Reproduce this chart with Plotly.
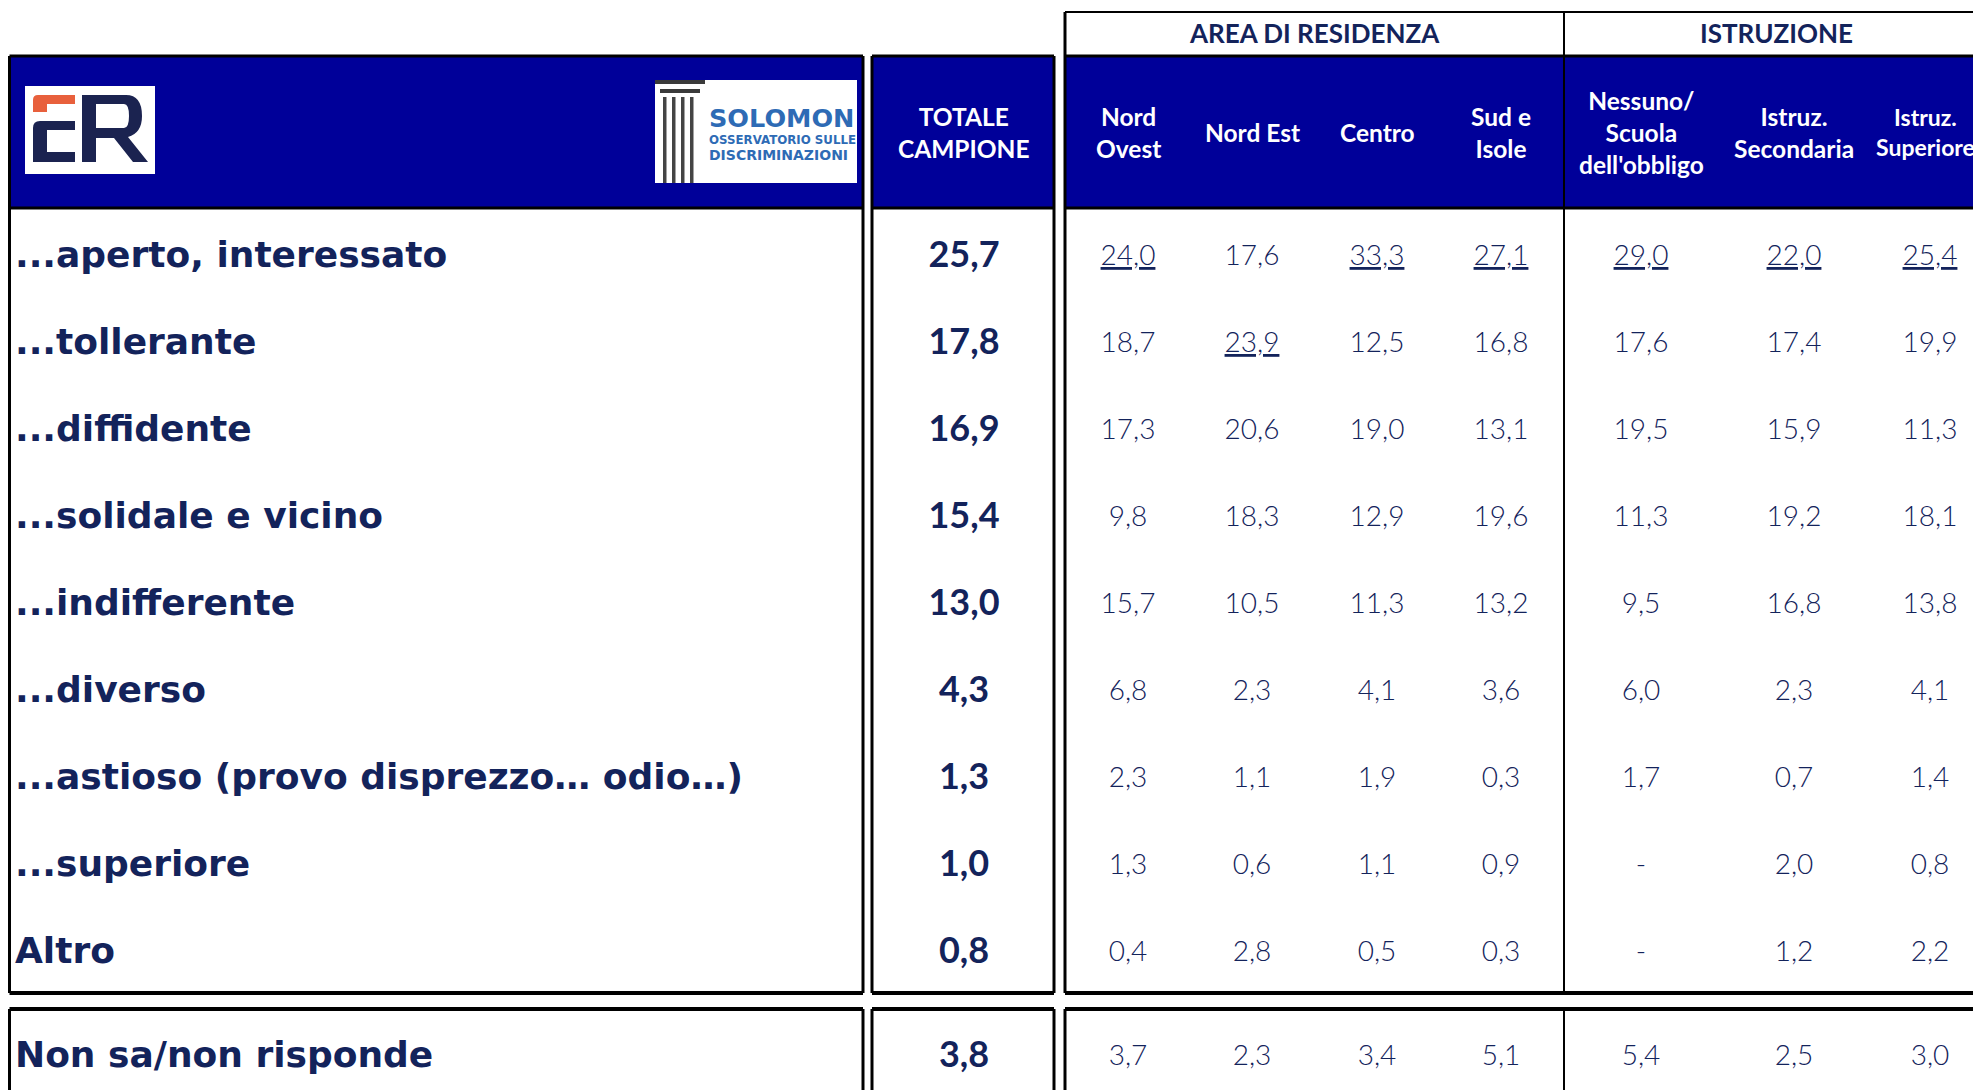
import plotly.graph_objects as go

# ── Dati ────────────────────────────────────────────────────────────────
voci = [
    "...aperto, interessato",
    "...tollerante",
    "...diffidente",
    "...solidale e vicino",
    "...indifferente",
    "...diverso",
    "...astioso (provo disprezzo… odio…)",
    "...superiore",
    "Altro",
    "Non sa/non risponde",
]
totale = [25.7, 17.8, 16.9, 15.4, 13.0, 4.3, 1.3, 1.0, 0.8, 3.8]
nord_ovest = [24.0, 18.7, 17.3, 9.8, 15.7, 6.8, 2.3, 1.3, 0.4, 3.7]
nord_est = [17.6, 23.9, 20.6, 18.3, 10.5, 2.3, 1.1, 0.6, 2.8, 2.3]
centro = [33.3, 12.5, 19.0, 12.9, 11.3, 4.1, 1.9, 1.1, 0.5, 3.4]
sud_isole = [27.1, 16.8, 13.1, 19.6, 13.2, 3.6, 0.3, 0.9, 0.3, 5.1]
nessuno = [29.0, 17.6, 19.5, 11.3, 9.5, 6.0, 1.7, None, None, 5.4]
secondaria = [22.0, 17.4, 15.9, 19.2, 16.8, 2.3, 0.7, 2.0, 1.2, 2.5]
superiore = [25.4, 19.9, 11.3, 18.1, 13.8, 4.1, 1.4, 0.8, 2.2, 3.0]

intestazioni = ["Nord<br>Ovest", "Nord Est", "Centro", "Sud e<br>Isole",
                "Nessuno/<br>Scuola<br>dell'obbligo", "Istruz.<br>Secondaria",
                "Istruz.<br>Superiore"]
colonne = [nord_ovest, nord_est, centro, sud_isole, nessuno, secondaria, superiore]
# indici di riga sottolineati per ogni colonna
sottolineati = [[0], [1], [0], [0], [0], [0], [0]]

# ── Layout (pixel) ─────────────────────────────────────────────────────
W, H = 1981, 1090
OFF = 8  # margine del body della pagina
BLU = "#000099"
NAVY = "#13235b"
col_x = [1128, 1252, 1377, 1501, 1641, 1794, 1930]
X_TOT = 964
row_y = [258 + 87 * i for i in range(9)] + [1058]


def fmt(v):
    return "-" if v is None else f"{v:.1f}".replace(".", ",")


fig = go.Figure()

shapes = []


def rect(x0, y0, x1, y1, fill=None, lw=0, lc="black"):
    shapes.append(dict(type="rect", x0=x0, y0=y0, x1=x1, y1=y1,
                       fillcolor=fill if fill else "rgba(0,0,0,0)",
                       line=dict(width=lw, color=lc), layer="below"))


def line(x0, y0, x1, y1, lw=3):
    shapes.append(dict(type="line", x0=x0, y0=y0, x1=x1, y1=y1,
                       line=dict(width=lw, color="black"), layer="above"))


# riquadri: etichette, totale, incroci
boxes = [(9.5, 863), (872, 1054), (1065, 1995)]
for x0, x1 in boxes:
    rect(x0, 56, x1, 208, fill=BLU)
    line(x0, 56, x1, 56)
    line(x0, 208, x1, 208)
    line(x0, 993, x1, 993, lw=4)
    line(x0, 1009, x1, 1009, lw=4)
    line(x0, 56, x0, 993)
    line(x1, 56, x1, 993)
    line(x0, 1009, x0, 1100)
    line(x1, 1009, x1, 1100)
# testata gruppi
line(1065, 12, 1995, 12, lw=2)
line(1065, 12, 1065, 56)
line(1564, 12, 1564, 993, lw=2)
line(1564, 1009, 1564, 1100, lw=2)

# logo ER
rect(25, 86, 155, 174, fill="white")
shapes.append(dict(type="path", fillcolor="#e8603c", line=dict(width=0),
                   path="M33,112 L33,100 Q33,95 38,95 L75,95 L75,104 L47,104 L47,112 Z"))
shapes.append(dict(type="path", fillcolor="#1b2350", line=dict(width=0),
                   path="M40,121 L75,121 L75,130 L47,130 L47,152 L75,152 L75,162 L33,162 L33,128 Q33,121 40,121 Z"))
shapes.append(dict(type="path", fillcolor="#1b2350", line=dict(width=0),
                   path="M82,95 L126,95 Q142,95 142,116 Q142,133 128,137 L148,162 L133,162 "
                        "L114,138 L96,138 L96,162 L82,162 Z "
                        "M96,104 L96,128 L124,128 Q129,128 129,116 Q129,104 124,104 Z"))

# logo Solomon
rect(655, 80, 857, 183, fill="white")
rect(655, 80, 705, 84, fill="#3a3a3a")
rect(660, 89, 700, 93, fill="#3a3a3a")
for cx in [663, 672, 681, 690]:
    rect(cx, 97, cx + 3.5, 183, fill="#444444")

fig.update_layout(shapes=shapes)

ann = []
ann.append(dict(x=707, y=118, text="<b>SOLOMON</b>", xanchor="left",
                font=dict(family="DejaVu Sans", size=25.5, color="#2e6bb5")))
ann.append(dict(x=707, y=140, text="<b>OSSERVATORIO SULLE</b>", xanchor="left",
                font=dict(family="DejaVu Sans", size=11.8, color="#2e6bb5")))
ann.append(dict(x=707, y=155, text="<b>DISCRIMINAZIONI</b>", xanchor="left",
                font=dict(family="DejaVu Sans", size=14, color="#2e6bb5")))

# testate
ann.append(dict(x=1314, y=33, text="<b>AREA DI RESIDENZA</b>",
                font=dict(family="Lato", size=26, color=NAVY)))
ann.append(dict(x=1776, y=33, text="<b>ISTRUZIONE</b>",
                font=dict(family="Lato", size=26, color=NAVY)))
ann.append(dict(x=X_TOT, y=132, text="<b>TOTALE<br>CAMPIONE</b>",
                font=dict(family="Lato", size=24.5, color="white")))
for cx, t in zip(col_x, intestazioni):
    size = 24.5
    if cx == col_x[-1]:
        cx, size = 1925, 23  # resta dentro il bordo destro
    ann.append(dict(x=cx, y=132, text=f"<b>{t}</b>",
                    font=dict(family="Lato", size=size, color="white")))
for a in ann:
    a.update(xref="x", yref="y", showarrow=False)
fig.update_layout(annotations=ann)

# etichette di riga
fig.add_trace(go.Scatter(
    x=[15] * len(voci), y=row_y, mode="text", text=voci,
    textposition="middle right",
    textfont=dict(family="DejaVu Sans", size=36, weight="bold", color=NAVY),
    hoverinfo="skip", showlegend=False,
))
# totale campione
fig.add_trace(go.Scatter(
    x=[X_TOT] * len(totale), y=row_y, mode="text",
    text=[fmt(v) for v in totale], textposition="middle center",
    textfont=dict(family="Lato", size=36, weight="bold", color=NAVY),
    hoverinfo="skip", showlegend=False,
))
# incroci
for cx, valori, sott in zip(col_x, colonne, sottolineati):
    testi = [f"<u>{fmt(v)}</u>" if i in sott else fmt(v) for i, v in enumerate(valori)]
    fig.add_trace(go.Scatter(
        x=[cx] * len(valori), y=row_y, mode="text", text=testi,
        textposition="middle center",
        textfont=dict(family="Lato", size=28, weight=300, color=NAVY),
        hoverinfo="skip", showlegend=False,
    ))

fig.update_xaxes(range=[OFF, W], visible=False, fixedrange=True)
fig.update_yaxes(range=[H, OFF], visible=False, fixedrange=True)
fig.update_layout(
    width=W - OFF, height=H - OFF,
    margin=dict(l=0, r=0, t=0, b=0),
    plot_bgcolor="white", paper_bgcolor="white",
)

fig.write_html("out.html")
